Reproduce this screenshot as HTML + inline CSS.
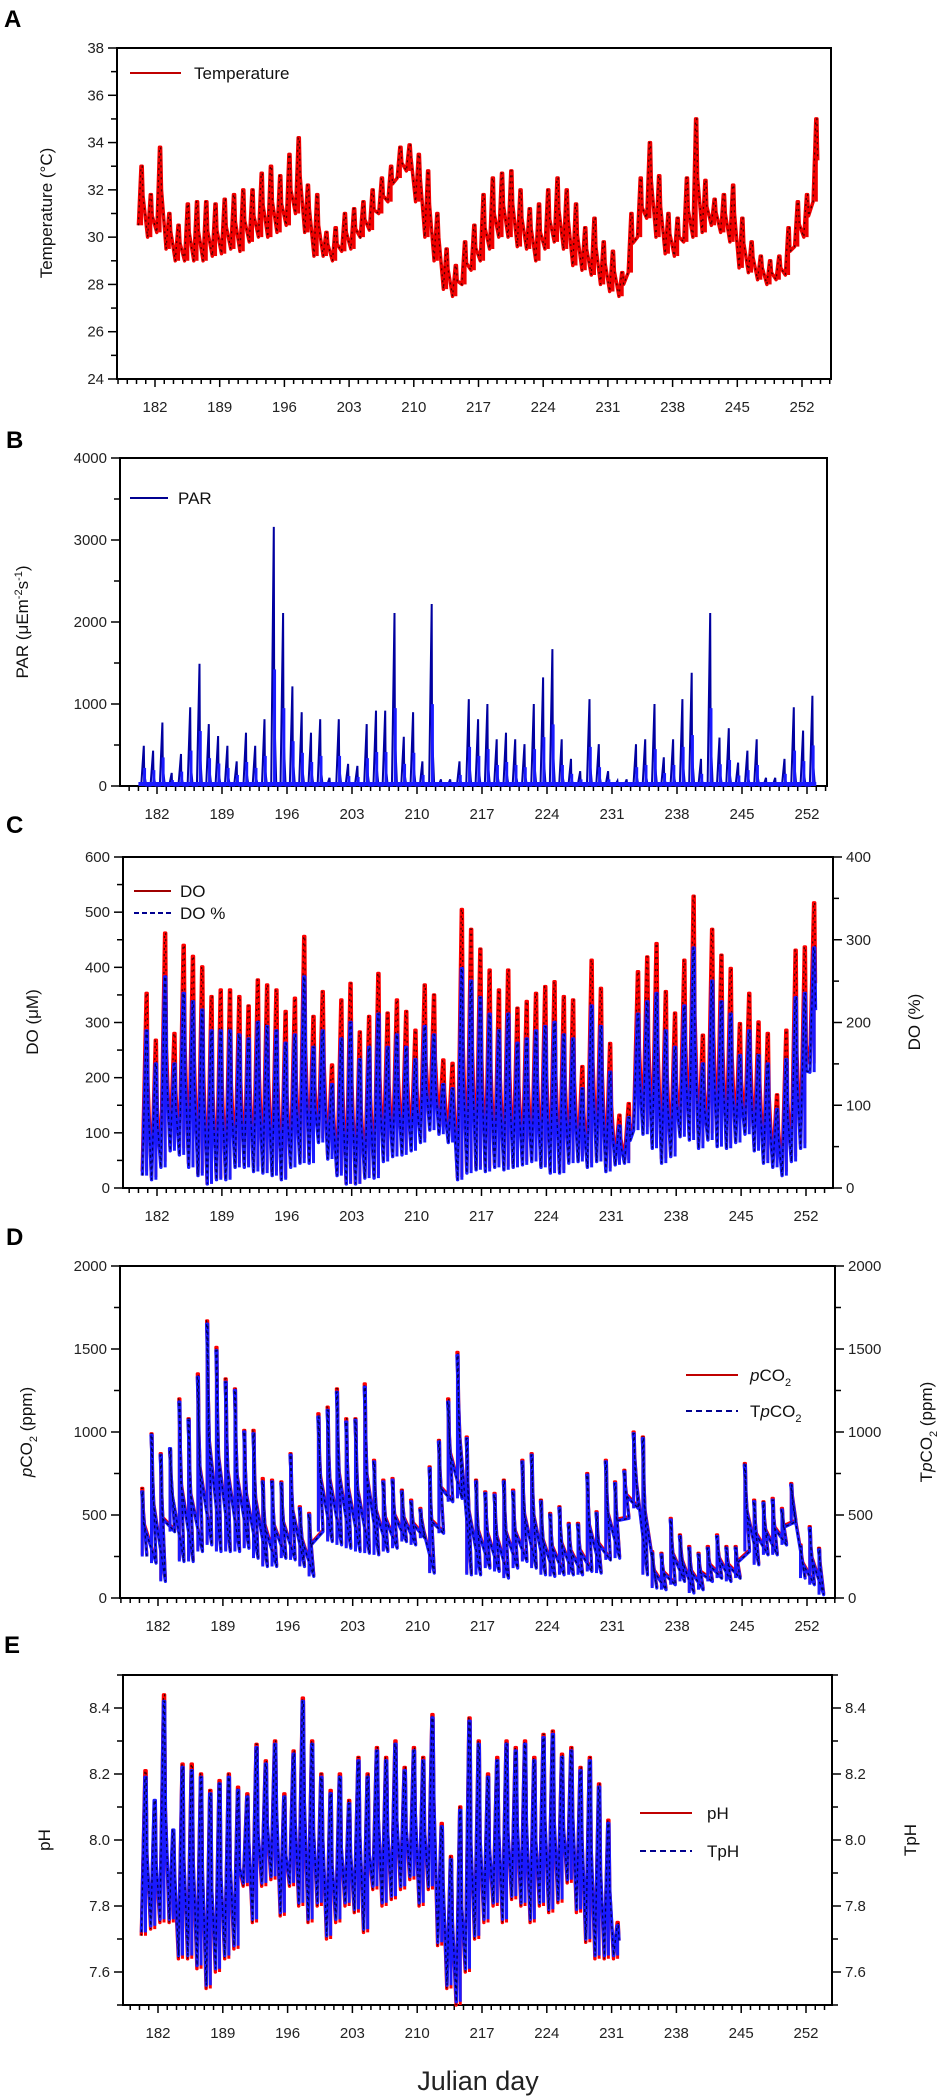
<!DOCTYPE html>
<html><head><meta charset="utf-8"><title>Julian day time series</title>
<style>
html,body{margin:0;padding:0;background:#fff;}
svg{display:block;font-family:"Liberation Sans",Arial,sans-serif;}
</style></head>
<body>
<svg id="chart" xmlns="http://www.w3.org/2000/svg" width="949" height="2100" viewBox="0 0 949 2100">
<rect x="0" y="0" width="949" height="2100" fill="#fff"/>
<g id="layer"></g>
</svg>
<script>
// ---- data (days start at 180) ----
const tempStart = 180;
const tempMax = [33.0,31.8,33.8,31.0,30.5,31.4,31.5,31.5,31.4,31.6,31.8,32.0,32.0,32.7,33.0,32.6,33.5,34.2,32.2,31.8,30.2,30.4,31.0,31.2,31.5,32.0,32.5,33.0,33.8,33.9,33.5,32.8,31.0,29.5,28.8,29.8,30.5,31.8,32.5,32.7,32.8,32.0,31.2,31.4,32.0,32.5,32.0,31.4,30.4,30.8,29.8,29.4,28.5,31.0,32.5,34.0,32.6,31.0,30.8,32.5,35.0,32.4,31.6,31.8,32.2,30.8,29.8,29.2,29.0,29.2,30.4,31.5,31.8,35.0];
const tempMin = [30.5,30.0,30.2,29.5,29.0,29.0,29.0,29.0,29.2,29.3,29.5,29.4,29.8,30.0,30.0,30.2,30.5,31.0,30.2,29.2,29.2,29.0,29.4,29.5,30.0,30.3,31.0,31.5,32.5,32.8,31.5,30.0,29.0,27.8,27.5,28.0,28.6,29.0,29.5,30.0,30.0,29.6,29.5,29.0,29.5,29.8,29.5,28.8,28.6,28.4,28.0,27.7,27.5,28.5,30.0,30.8,30.0,29.3,29.2,29.8,30.0,30.2,30.5,30.2,29.8,28.7,28.5,28.2,28.0,28.2,28.4,29.6,30.0,31.5];

const parStart = 180;
const parMax = [490,430,775,160,390,960,1490,755,610,490,300,650,490,815,3160,2110,1215,900,650,815,100,815,270,245,755,920,920,2110,600,900,300,2220,80,80,300,1060,815,1000,570,650,570,510,1000,1325,1670,570,330,180,1060,510,180,60,80,510,570,1000,350,570,1060,1380,330,2110,590,705,285,430,570,100,100,330,960,675,1100];

const doStart = 180;
const doMax = [353,268,462,280,440,420,401,347,359,359,347,330,377,368,359,320,344,456,311,356,223,341,371,283,311,389,317,341,320,286,368,350,232,226,505,469,433,395,359,395,326,338,353,365,374,347,341,220,413,362,262,132,153,392,419,443,356,317,413,529,277,469,422,398,298,353,301,280,169,286,431,437,517];
const doMin = [30,20,48,75,72,45,27,8,18,18,45,42,39,33,30,18,45,54,54,90,60,27,8,8,24,24,57,66,69,78,90,117,111,93,20,33,39,36,42,39,45,48,57,42,33,33,51,57,45,57,36,48,51,117,111,81,54,66,105,99,81,99,87,81,93,111,78,51,45,30,57,81,226];
const doPctMax = [190,150,255,150,235,225,215,190,190,190,185,180,200,195,190,175,185,255,170,190,125,180,200,155,170,210,170,185,170,155,195,185,125,120,265,250,230,210,190,210,175,180,190,195,200,185,180,120,220,195,140,75,85,210,225,235,190,170,220,290,150,250,225,210,160,190,160,150,95,155,230,235,290];
const doPctMin = [15,10,25,45,40,25,15,5,10,10,25,25,20,18,15,10,25,30,30,55,35,15,5,5,12,12,32,38,40,45,55,70,65,55,10,18,22,20,25,22,25,28,32,25,18,18,30,32,25,32,20,28,30,70,65,48,30,38,62,58,48,58,50,48,55,65,45,30,25,15,32,48,140];

const co2Start = 180;
const co2Max = [660,990,870,890,1200,1080,1350,1670,1510,1320,1260,1010,1010,720,710,700,870,550,510,1110,1150,1260,1080,1080,1290,830,710,720,650,590,540,790,950,1200,1480,970,710,640,630,710,650,830,870,590,510,550,450,450,750,520,830,700,770,1000,970,280,270,480,380,310,270,310,380,310,310,810,590,580,600,540,690,320,430,300];
const co2Min = [260,220,110,410,230,230,290,330,290,290,290,310,250,200,200,250,240,200,140,410,350,330,310,290,280,270,290,310,350,330,370,160,400,590,610,150,150,190,170,130,190,230,190,150,140,150,150,150,170,160,240,250,490,550,150,70,60,90,110,40,60,110,130,110,130,290,210,270,270,330,470,130,90,30];
const tco2Max = [640,980,860,900,1180,1070,1330,1650,1490,1300,1250,1000,990,700,700,690,860,540,500,1090,1130,1240,1060,1070,1270,820,700,710,640,580,530,780,940,1180,1460,960,700,630,620,700,640,820,860,580,500,540,440,440,740,510,820,690,760,990,960,270,260,470,370,300,260,300,370,300,300,800,580,570,590,530,680,310,420,290];
const tco2Min = [250,210,100,400,220,220,280,320,280,280,280,300,240,190,190,240,230,190,130,400,340,320,300,280,270,260,280,300,340,320,360,150,390,580,600,140,140,180,160,120,180,220,180,140,130,140,140,140,160,150,230,240,480,540,140,60,50,80,100,30,50,100,120,100,120,280,200,260,260,320,460,120,80,20];

const phStart = 180;
const phMax = [8.21,8.10,8.44,8.01,8.23,8.23,8.20,8.15,8.18,8.20,8.16,8.14,8.29,8.24,8.30,8.14,8.27,8.43,8.30,8.20,8.15,8.20,8.12,8.25,8.20,8.28,8.25,8.30,8.22,8.28,8.25,8.38,8.05,7.95,8.10,8.37,8.30,8.20,8.25,8.30,8.28,8.30,8.25,8.32,8.33,8.26,8.28,8.22,8.25,8.17,8.06,7.75];
const phMin = [7.71,7.73,7.75,7.75,7.64,7.64,7.61,7.55,7.60,7.64,7.67,7.86,7.75,7.86,7.88,7.77,7.86,7.80,7.75,7.80,7.70,7.75,7.80,7.78,7.72,7.85,7.80,7.82,7.85,7.88,7.80,7.85,7.68,7.55,7.50,7.60,7.70,7.75,7.80,7.75,7.82,7.80,7.75,7.80,7.78,7.81,7.87,7.78,7.69,7.64,7.64,7.64];
const tphMax = [8.19,8.12,8.42,8.03,8.22,8.21,8.19,8.14,8.17,8.19,8.15,8.13,8.28,8.23,8.29,8.13,8.26,8.42,8.29,8.19,8.14,8.19,8.11,8.24,8.19,8.27,8.24,8.29,8.21,8.27,8.24,8.37,8.04,7.94,8.09,8.36,8.29,8.19,8.24,8.29,8.27,8.29,8.24,8.31,8.32,8.25,8.27,8.21,8.24,8.16,8.05,7.74];
const tphMin = [7.72,7.74,7.76,7.76,7.65,7.65,7.62,7.56,7.61,7.65,7.68,7.87,7.76,7.87,7.89,7.78,7.87,7.81,7.76,7.81,7.71,7.76,7.81,7.79,7.73,7.86,7.81,7.83,7.86,7.89,7.81,7.86,7.69,7.56,7.51,7.61,7.71,7.76,7.81,7.76,7.83,7.81,7.76,7.81,7.79,7.82,7.88,7.79,7.70,7.65,7.65,7.65];

const dayTicks = [182,189,196,203,210,217,224,231,238,245,252];

// ---- helpers ----
const NS = 'http://www.w3.org/2000/svg';
const layer = document.getElementById('layer');
function mk(tag, attrs, name, parent, interact) {
  const el = document.createElementNS(NS, tag);
  for (const k in attrs) el.setAttribute(k, attrs[k]);
  
  
  (parent || layer).appendChild(el);
  return el;
}
function txt(x, y, s, size, anchor, name, parent, extra) {
  const t = mk('text', Object.assign({x: x, y: y, 'font-size': size, 'text-anchor': anchor || 'middle', fill: '#111'}, extra || {}), name, parent);
  t.innerHTML = s;
  return t;
}
function isMajor(v, base, step) {
  const k = (v - base) / step;
  return Math.abs(k - Math.round(k)) < 1e-6;
}

function panel(cfg) {
  const g = mk('g', {}, cfg.name, layer);
  const xs = d => cfg.x182 + (d - 182) * (cfg.x252 - cfg.x182) / 70;
  const ys = v => cfg.bottom - (v - cfg.ymin) * (cfg.bottom - cfg.top) / (cfg.ymax - cfg.ymin);
  const ys2 = cfg.y2 ? (v => cfg.bottom - (v - cfg.y2.min) * (cfg.bottom - cfg.top) / (cfg.y2.max - cfg.y2.min)) : null;
  const base = cfg.majorBase !== undefined ? cfg.majorBase : cfg.ymin;
  mk('rect', {x: cfg.left, y: cfg.top, width: cfg.right - cfg.left, height: cfg.bottom - cfg.top, fill: 'none', stroke: '#000', 'stroke-width': 2}, 'plot-frame', g);
  const d0 = Math.ceil(182 - (cfg.x182 - cfg.left) / ((cfg.x252 - cfg.x182) / 70));
  for (let d = d0; xs(d) <= cfg.right; d++) {
    const major = (d - 182) % 7 === 0;
    mk('line', {x1: xs(d), x2: xs(d), y1: cfg.bottom, y2: cfg.bottom + (major ? 8 : 5), stroke: '#000', 'stroke-width': 1.5}, 'x-tick', g);
  }
  dayTicks.forEach(d => txt(xs(d), cfg.bottom + 33, d, 15, 'middle', 'x-tick-label', g, {fill: '#222'}));
  for (let k = 0; cfg.ymin + k * cfg.minor <= cfg.ymax + 1e-9; k++) {
    const v = cfg.ymin + k * cfg.minor;
    const major = isMajor(v, base, cfg.major);
    mk('line', {x1: cfg.left - (major ? 9 : 6), x2: cfg.left, y1: ys(v), y2: ys(v), stroke: '#000', 'stroke-width': 1.5}, 'y-tick', g);
    if (major) txt(cfg.left - 13, ys(v) + 5, cfg.fmt ? cfg.fmt(v) : v, 15, 'end', 'y-tick-label', g, {fill: '#222'});
  }
  if (cfg.y2) {
    const base2 = cfg.y2.base !== undefined ? cfg.y2.base : cfg.y2.min;
    for (let k = 0; cfg.y2.min + k * cfg.y2.minor <= cfg.y2.max + 1e-9; k++) {
      const v = cfg.y2.min + k * cfg.y2.minor;
      const major = isMajor(v, base2, cfg.y2.major);
      mk('line', {x1: cfg.right, x2: cfg.right + (major ? 9 : 6), y1: ys2(v), y2: ys2(v), stroke: '#000', 'stroke-width': 1.5}, 'y2-tick', g);
      if (major) txt(cfg.right + 13, ys2(v) + 5, cfg.fmt ? cfg.fmt(v) : v, 15, 'start', 'y2-tick-label', g, {fill: '#222'});
    }
  }
  return {g: g, xs: xs, ys: ys, ys2: ys2};
}

function zigzag(p, start, mins, maxs, ys, offMin, offMax, color, dark, name, width, dash) {
  let pts = [];
  for (let i = 0; i < maxs.length; i++) {
    const d = start + i;
    pts.push(p.xs(d + offMin).toFixed(1) + ',' + ys(mins[i]).toFixed(1));
    pts.push(p.xs(d + offMax - 0.06).toFixed(1) + ',' + ys(maxs[i]).toFixed(1));
    pts.push(p.xs(d + offMax + 0.06).toFixed(1) + ',' + ys(maxs[i]).toFixed(1));
    pts.push(p.xs(d + offMax + 0.15).toFixed(1) + ',' + ys((maxs[i] + mins[i]) / 2).toFixed(1));
  }
  const s = pts.join(' ');
  for (let i = 0; i < maxs.length; i++) {
    const d = start + i;
    mk('line', {x1: p.xs(d + offMax), x2: p.xs(d + offMax), y1: ys(mins[i]), y2: ys(maxs[i]), stroke: color, 'stroke-width': 3}, name + '-range', p.g);
  }
  mk('polyline', {points: s, fill: 'none', stroke: color, 'stroke-width': width, 'stroke-linejoin': 'round'}, name, p.g);
  mk('polyline', {points: s, fill: 'none', stroke: dark, 'stroke-width': 1.3, 'stroke-dasharray': dash || '2 4'}, name + '-markers', p.g);
}

// ---- Panel A ----
const A = panel({name: 'panel-a-temperature', left: 117, right: 831, top: 48, bottom: 379, x182: 155, x252: 802, ymin: 24, ymax: 38, major: 2, minor: 1});
zigzag(A, tempStart, tempMin, tempMax, A.ys, 0.2, 0.55, '#f00000', '#4a0000', 'temperature-line', 3.5);
txt(4, 27, 'A', 24, 'start', 'panel-label-a', layer, {'font-weight': 'bold', fill: '#000'});
txt(52, 213, 'Temperature (°C)', 17, 'middle', 'y-axis-title-temperature', layer, {transform: 'rotate(-90 52 213)'});
mk('line', {x1: 130, x2: 181, y1: 73, y2: 73, stroke: '#c00000', 'stroke-width': 2}, 'legend-line-temperature', A.g);
txt(194, 79, 'Temperature', 17, 'start', 'legend-label-temperature', A.g);

// ---- Panel B ----
const B = panel({name: 'panel-b-par', left: 120, right: 827, top: 458, bottom: 786, x182: 157, x252: 807, ymin: 0, ymax: 4000, major: 1000, minor: 500});
(function () {
  const pts = [];
  for (let i = 0; i < parMax.length; i++) {
    const d = parStart + i;
    pts.push(B.xs(d + 0.3).toFixed(1) + ',' + B.ys(0).toFixed(1));
    pts.push(B.xs(d + 0.58).toFixed(1) + ',' + B.ys(parMax[i]).toFixed(1));
    pts.push(B.xs(d + 0.62).toFixed(1) + ',' + B.ys(parMax[i] * 0.3).toFixed(1));
    pts.push(B.xs(d + 0.85).toFixed(1) + ',' + B.ys(0).toFixed(1));
  }
  mk('polyline', {points: pts.join(' '), fill: 'none', stroke: '#0000a0', 'stroke-width': 2}, 'par-line', B.g);
  for (let i = 0; i < parMax.length; i++) {
    const d = parStart + i;
    mk('line', {x1: B.xs(d + 0.66), x2: B.xs(d + 0.66), y1: B.ys(0), y2: B.ys(parMax[i] * 0.45), stroke: '#1a1aff', 'stroke-width': 3}, 'par-bar', B.g);
  }
  mk('line', {x1: B.xs(180), x2: B.xs(253), y1: B.ys(0) - 2, y2: B.ys(0) - 2, stroke: '#1a1aff', 'stroke-width': 4}, 'par-baseline', B.g);
})();
txt(6, 448, 'B', 24, 'start', 'panel-label-b', layer, {'font-weight': 'bold', fill: '#000'});
txt(28, 622, 'PAR (μEm<tspan dy="-6" font-size="11">-2</tspan><tspan dy="6">s</tspan><tspan dy="-6" font-size="11">-1</tspan><tspan dy="6">)</tspan>', 17, 'middle', 'y-axis-title-par', layer, {transform: 'rotate(-90 28 622)'});
mk('line', {x1: 130, x2: 168, y1: 498, y2: 498, stroke: '#000090', 'stroke-width': 2}, 'legend-line-par', B.g);
txt(178, 504, 'PAR', 17, 'start', 'legend-label-par', B.g);

// ---- Panel C ----
const C = panel({name: 'panel-c-do', left: 123, right: 833, top: 857, bottom: 1188, x182: 157, x252: 806, ymin: 0, ymax: 600, major: 100, minor: 50, y2: {min: 0, max: 400, major: 100, minor: 50}});
zigzag(C, doStart, doMin, doMax, C.ys, 0.4, 0.88, '#ff0000', '#500000', 'do-line', 3.4);
zigzag(C, doStart, doPctMin, doPctMax, C.ys2, 0.42, 0.88, '#1a1aff', '#000060', 'do-percent-line', 3.4, '3 3');
txt(6, 833, 'C', 24, 'start', 'panel-label-c', layer, {'font-weight': 'bold', fill: '#000'});
txt(38, 1022, 'DO (μM)', 17, 'middle', 'y-axis-title-do', layer, {transform: 'rotate(-90 38 1022)'});
txt(920, 1022, 'DO (%)', 17, 'middle', 'y2-axis-title-do-percent', layer, {transform: 'rotate(-90 920 1022)'});
mk('line', {x1: 134, x2: 171, y1: 891, y2: 891, stroke: '#a00000', 'stroke-width': 2}, 'legend-line-do', C.g);
txt(180, 897, 'DO', 17, 'start', 'legend-label-do', C.g);
mk('line', {x1: 134, x2: 171, y1: 913, y2: 913, stroke: '#000090', 'stroke-width': 2, 'stroke-dasharray': '5 3'}, 'legend-line-do-percent', C.g);
txt(180, 919, 'DO %', 17, 'start', 'legend-label-do-percent', C.g);

// ---- Panel D ----
const D = panel({name: 'panel-d-pco2', left: 120, right: 835, top: 1266, bottom: 1598, x182: 158, x252: 807, ymin: 0, ymax: 2000, major: 500, minor: 250, y2: {min: 0, max: 2000, major: 500, minor: 250}});
zigzag(D, co2Start, co2Min, co2Max, D.ys, 0.8, 0.3, '#ff0000', '#400000', 'pco2-line', 3.2);
zigzag(D, co2Start, tco2Min, tco2Max, D.ys2, 0.8, 0.3, '#1a1aff', '#000050', 'tpco2-line', 3.2, '3 3');
txt(6, 1245, 'D', 24, 'start', 'panel-label-d', layer, {'font-weight': 'bold', fill: '#000'});
txt(32, 1432, '<tspan font-style="italic">p</tspan>CO<tspan dy="5" font-size="11">2</tspan><tspan dy="-5"> (ppm)</tspan>', 17, 'middle', 'y-axis-title-pco2', layer, {transform: 'rotate(-90 32 1432)'});
txt(932, 1432, 'T<tspan font-style="italic">p</tspan>CO<tspan dy="5" font-size="11">2</tspan><tspan dy="-5"> (ppm)</tspan>', 17, 'middle', 'y2-axis-title-tpco2', layer, {transform: 'rotate(-90 932 1432)'});
mk('line', {x1: 686, x2: 738, y1: 1375, y2: 1375, stroke: '#c00000', 'stroke-width': 2}, 'legend-line-pco2', D.g);
txt(750, 1381, '<tspan font-style="italic">p</tspan>CO<tspan dy="5" font-size="11">2</tspan>', 17, 'start', 'legend-label-pco2', D.g);
mk('line', {x1: 686, x2: 738, y1: 1411, y2: 1411, stroke: '#000090', 'stroke-width': 2, 'stroke-dasharray': '6 4'}, 'legend-line-tpco2', D.g);
txt(750, 1417, 'T<tspan font-style="italic">p</tspan>CO<tspan dy="5" font-size="11">2</tspan>', 17, 'start', 'legend-label-tpco2', D.g);

// ---- Panel E ----
const E = panel({name: 'panel-e-ph', left: 123, right: 832, top: 1675, bottom: 2005, x182: 158, x252: 806, ymin: 7.5, ymax: 8.5, major: 0.2, minor: 0.1, majorBase: 7.6, fmt: v => v.toFixed(1), y2: {min: 7.5, max: 8.5, major: 0.2, minor: 0.1, base: 7.6}});
zigzag(E, phStart, phMin, phMax, E.ys, 0.2, 0.65, '#ff0000', '#300000', 'ph-line', 3.4);
zigzag(E, phStart, tphMin, tphMax, E.ys2, 0.22, 0.65, '#1a1aff', '#000050', 'tph-line', 3.4, '3 3');
txt(4, 1653, 'E', 24, 'start', 'panel-label-e', layer, {'font-weight': 'bold', fill: '#000'});
txt(50, 1840, 'pH', 17, 'middle', 'y-axis-title-ph', layer, {transform: 'rotate(-90 50 1840)'});
txt(916, 1840, 'TpH', 17, 'middle', 'y2-axis-title-tph', layer, {transform: 'rotate(-90 916 1840)'});
mk('line', {x1: 640, x2: 692, y1: 1813, y2: 1813, stroke: '#c00000', 'stroke-width': 2}, 'legend-line-ph', E.g);
txt(707, 1819, 'pH', 17, 'start', 'legend-label-ph', E.g);
mk('line', {x1: 640, x2: 692, y1: 1851, y2: 1851, stroke: '#000090', 'stroke-width': 2, 'stroke-dasharray': '6 4'}, 'legend-line-tph', E.g);
txt(707, 1857, 'TpH', 17, 'start', 'legend-label-tph', E.g);

txt(478, 2090, 'Julian day', 27, 'middle', 'x-axis-title', layer, {fill: '#222'});
</script>
</body></html>
